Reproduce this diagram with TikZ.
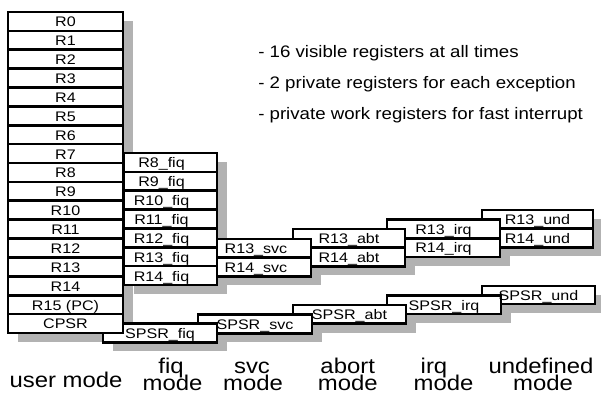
\documentclass[tikz,border=0pt]{standalone}
\usepackage{fontspec}
\setmainfont[FakeStretch=1.12]{Liberation Sans}
\newfontfamily\regfont[FakeStretch=1.16]{Liberation Sans}
\usetikzlibrary{backgrounds}
\definecolor{shadowgray}{RGB}{178,178,178}

% #1 name, #2 left, #3 top, #4 width, #5 height (pixel units)
\newcommand\regcell[5]{%
  \node[regbox, minimum width=#4*0.75pt, minimum height=#5*0.75pt] (#1) at ({#2},{#3}) {};}
% #1 cell name, #2 text, #3 horizontal offset (pixel units)
\newcommand\regtext[3]{%
  \node[regtxt] (#1-t) at ([xshift=#3*0.75pt, yshift=3pt]#1.south) {#2};}

\tikzset{
  regbox/.style={draw, line width=2pt, fill=white, rectangle, inner sep=0pt,
                 outer sep=0pt, anchor=north west},
  regtxt/.style={font=\regfont\fontsize{10.4}{12}\selectfont, anchor=base, inner sep=0pt},
  shade/.style={fill=shadowgray, draw=none},
  bullet/.style={font=\fontsize{12.5}{14}\selectfont, anchor=base west, inner sep=0pt},
  modelbl/.style={font=\fontsize{16}{16}\selectfont, anchor=base, inner sep=0pt},
}

\begin{document}
\begin{tikzpicture}[x=0.75pt, y=-0.75pt]
\useasboundingbox (0,0) rectangle (601,394);

% undefined mode
\regcell{und13}{482}{210}{111}{18.7}
\regcell{und14}{482}{228.7}{111}{18.7}
\regcell{spsrund}{482}{286}{113}{18}
% irq mode
\regcell{irq13}{387}{219.5}{113}{18.7}
\regcell{irq14}{387}{238.2}{113}{18.7}
\regcell{spsrirq}{387}{295.5}{114}{18.5}
% abort mode
\regcell{abt13}{293}{229}{112}{18.7}
\regcell{abt14}{293}{247.7}{112}{18.7}
\regcell{spsrabt}{293}{305}{113}{18.7}
% svc mode
\regcell{svc13}{217}{239}{94}{18.7}
\regcell{svc14}{217}{257.7}{94}{18.7}
\regcell{spsrsvc}{198}{314.5}{114}{18.7}
% fiq mode
\regcell{spsrfiq}{103}{323.5}{114}{18.7}
\foreach \k in {8,...,14}{
  \regcell{fiq\k}{124}{153+(\k-8)*18.86}{93}{18.86}
}
% user mode
\foreach \k in {0,...,16}{
  \regcell{u\k}{8}{12+\k*18.88}{115}{18.88}
}

% drop shadows behind every register group
\begin{pgfonlayer}{background}
  \foreach \a/\b in {u0/u16, fiq8/fiq14, spsrfiq/spsrfiq, svc13/svc14, spsrsvc/spsrsvc,
                     abt13/abt14, spsrabt/spsrabt, irq13/irq14, spsrirq/spsrirq,
                     und13/und14, spsrund/spsrund}{
    \fill[shade] ([shift={(7.5pt,-6.75pt)}]\a.north west)
      rectangle ([shift={(7.5pt,-6.75pt)}]\b.south east);
  }
\end{pgfonlayer}

% register names
\foreach \lab [count=\k from 0] in {R0,R1,R2,R3,R4,R5,R6,R7,R8,R9,R10,R11,R12,R13,R14,R15 (PC),CPSR}{
  \regtext{u\k}{\lab}{0}
}
\foreach \lab [count=\k from 8] in {R8\_fiq,R9\_fiq,R10\_fiq,R11\_fiq,R12\_fiq,R13\_fiq,R14\_fiq}{
  \regtext{fiq\k}{\lab}{-9}
}
\regtext{spsrfiq}{SPSR\_fiq}{0}
\regtext{svc13}{R13\_svc}{-8}
\regtext{svc14}{R14\_svc}{-8}
\regtext{spsrsvc}{SPSR\_svc}{0}
\regtext{abt13}{R13\_abt}{0}
\regtext{abt14}{R14\_abt}{0}
\regtext{spsrabt}{SPSR\_abt}{0}
\regtext{irq13}{R13\_irq}{0}
\regtext{irq14}{R14\_irq}{0}
\regtext{spsrirq}{SPSR\_irq}{0}
\regtext{und13}{R13\_und}{0}
\regtext{und14}{R14\_und}{0}
\regtext{spsrund}{SPSR\_und}{0}

% notes
\node[bullet] (note1) at (258,57) {- 16 visible registers at all times};
\node[bullet] (note2) at (258,88) {- 2 private registers for each exception};
\node[bullet] (note3) at (258,119) {- private work registers for fast interrupt};

% mode captions
\node[modelbl] (usermode) at (66,387.5) {user mode};
\node[modelbl] (fiqname) at (171,373) {fiq};
\node[modelbl] (fiqmode) at (172.5,390) {mode};
\node[modelbl] (svcname) at (252,373) {svc};
\node[modelbl] (svcmode) at (253,390) {mode};
\node[modelbl] (abtname) at (347.7,373) {abort};
\node[modelbl] (abtmode) at (347.8,390) {mode};
\node[modelbl] (irqname) at (434,373) {irq};
\node[modelbl] (irqmode) at (443.5,390) {mode};
\node[modelbl] (undname) at (541,373) {undefined};
\node[modelbl] (undmode) at (543,390) {mode};
\end{tikzpicture}
\end{document}
